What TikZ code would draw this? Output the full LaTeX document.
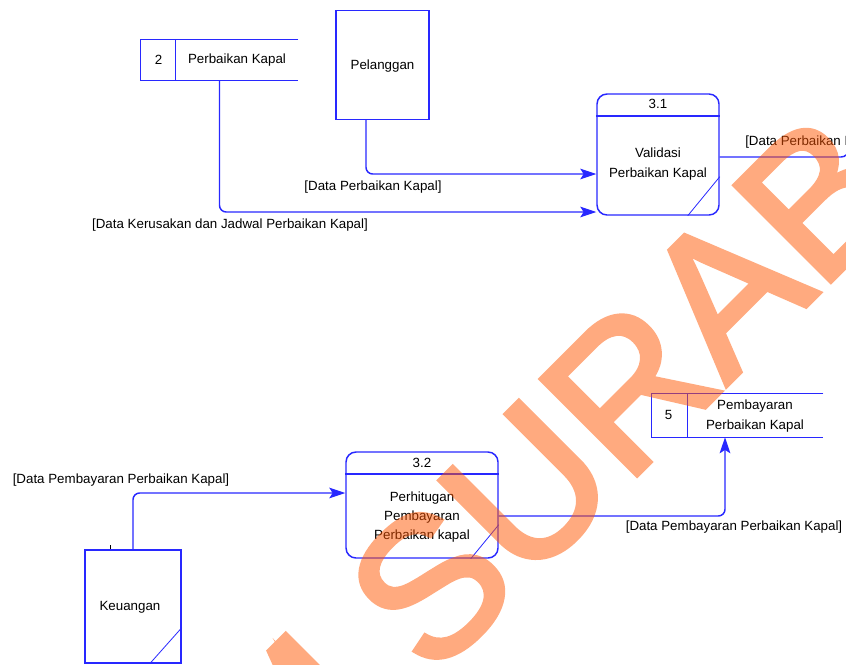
\documentclass[tikz,border=0pt]{standalone}
\usepackage{fontspec}
\setmainfont{Liberation Sans}
\newfontfamily\wmfont[RawFeature={embolden=2.5}]{Liberation Sans}
\usetikzlibrary{calc,arrows.meta}
\definecolor{dfd}{RGB}{40,40,255}
\definecolor{wm}{RGB}{255,85,0}
\begin{document}
\begin{tikzpicture}[x=0.75pt,y=-0.75pt,
  ln/.style={draw=dfd,line width=1.1pt},
  fine/.style={draw=dfd,line width=0.6pt},
  entity/.style={ln,rectangle,inner sep=0pt},
  proc/.style={ln,rectangle,rounded corners=7.5pt,inner sep=0pt},
  store/.style={rectangle,draw=none,inner sep=0pt},
  txt/.style={font=\fontsize{10}{14.5}\selectfont,align=center,inner sep=0pt},
  lbl/.style={font=\fontsize{10}{12}\selectfont,inner sep=0pt},
  flow/.style={ln,rounded corners=5pt,-{Stealth[length=12pt,width=8pt,inset=2.5pt]}},
]
\useasboundingbox (0,0) rectangle (846,664);
\clip (0,0) rectangle (846,664);

% ---------- data store 2 ----------
\node[store,minimum width=117.75pt,minimum height=30pt] (st2) at (219.5,60) {};
\draw[ln] (st2.north east) -- (st2.north west) -- (st2.south west) -- (st2.south east);
\draw[ln] ($(st2.north west)+(35,0)$) -- ($(st2.south west)+(35,0)$);
\node[txt] (st2n) at (158.5,60) {2};
\node[txt] (st2t) at (237,60) {Perbaikan Kapal};

% ---------- external entity Pelanggan ----------
\node[entity,minimum width=69.75pt,minimum height=81.75pt] (pel) at (382.5,65) {};
\node[txt] (pelt) at (382.5,66) {Pelanggan};

% ---------- process 3.1 ----------
\node[proc,minimum width=91.5pt,minimum height=90.75pt] (p31) at (658,154.5) {};
\draw[ln] ($(p31.north west)+(0,22.5)$) -- ($(p31.north east)+(0,22.5)$);
\draw[fine] ($(p31.south east)+(0,-39)$) -- ($(p31.south east)+(-32,0)$);
\node[txt] (p31n) at (658,104) {3.1};
\node[txt] (p31t) at (658,164) {Validasi\\Perbaikan Kapal};

% ---------- data store 5 ----------
\node[store,minimum width=128.25pt,minimum height=32.25pt] (st5) at (737.5,415.5) {};
\draw[ln] (st5.north east) -- (st5.north west) -- (st5.south west) -- (st5.south east);
\draw[ln] ($(st5.north west)+(35.5,0)$) -- ($(st5.south west)+(35.5,0)$);
\node[txt] (st5n) at (668.5,415) {5};
\node[txt] (st5t) at (755,416) {Pembayaran\\Perbaikan Kapal};

% ---------- process 3.2 ----------
\node[proc,minimum width=114pt,minimum height=79.5pt] (p32) at (422,505) {};
\draw[ln] ($(p32.north west)+(0,22.5)$) -- ($(p32.north east)+(0,22.5)$);
\draw[fine] ($(p32.south east)+(0,-34)$) -- ($(p32.south east)+(-28,0)$);
\node[txt] (p32n) at (422,463) {3.2};
\node[txt] (p32t) at (422,517) {Perhitugan\\Pembayaran\\Perbaikan kapal};

% ---------- external entity Keuangan ----------
\node[entity,minimum width=72pt,minimum height=84.75pt] (keu) at (133,606.5) {};
\draw[fine] ($(keu.south east)+(0,-36)$) -- ($(keu.south east)+(-32,0)$);
\draw[black,line width=0.6pt] ($(keu.north west)+(26,0)$) -- ($(keu.north west)+(26,-4)$);
\node[txt] (keut) at (130,607) {Keuangan};

% ---------- data flows ----------
\draw[flow] ($(pel.south)+(-16.5,0)$) |- ($(p31.west)+(0,19.5)$);
\node[lbl] (l1) at (373,187) {[Data Perbaikan Kapal]};

\draw[flow] (st2.south) |- ($(p31.west)+(0,57.5)$);
\node[lbl] (l2) at (230,225) {[Data Kerusakan dan Jadwal Perbaikan Kapal]};

\coordinate (o31) at (849,100);
\draw[ln,rounded corners=6pt] ($(p31.east)+(0,2.5)$) -| (o31);
\node[lbl,anchor=west] (l3) at (745,142) {[Data Perbaikan Kapal]};

\draw[flow] (keu.north) |- ($(p32.west)+(0,-12)$);
\node[lbl] (l4) at (121,480) {[Data Pembayaran Perbaikan Kapal]};

\draw[flow] ($(p32.east)+(0,11)$) -| ($(st5.south)+(-12.5,0)$);
\node[lbl] (l5) at (734,527) {[Data Pembayaran Perbaikan Kapal]};

% ---------- watermark ----------
\begin{scope}[transparency group,opacity=0.5]
\node[rotate=45,anchor=base west,inner sep=0pt,text=wm,
      font=\wmfont\fontsize{148}{148}\selectfont] (wmk) at (-142,1254) {STIKOM SURABAYA};
\end{scope}
\end{tikzpicture}
\end{document}
